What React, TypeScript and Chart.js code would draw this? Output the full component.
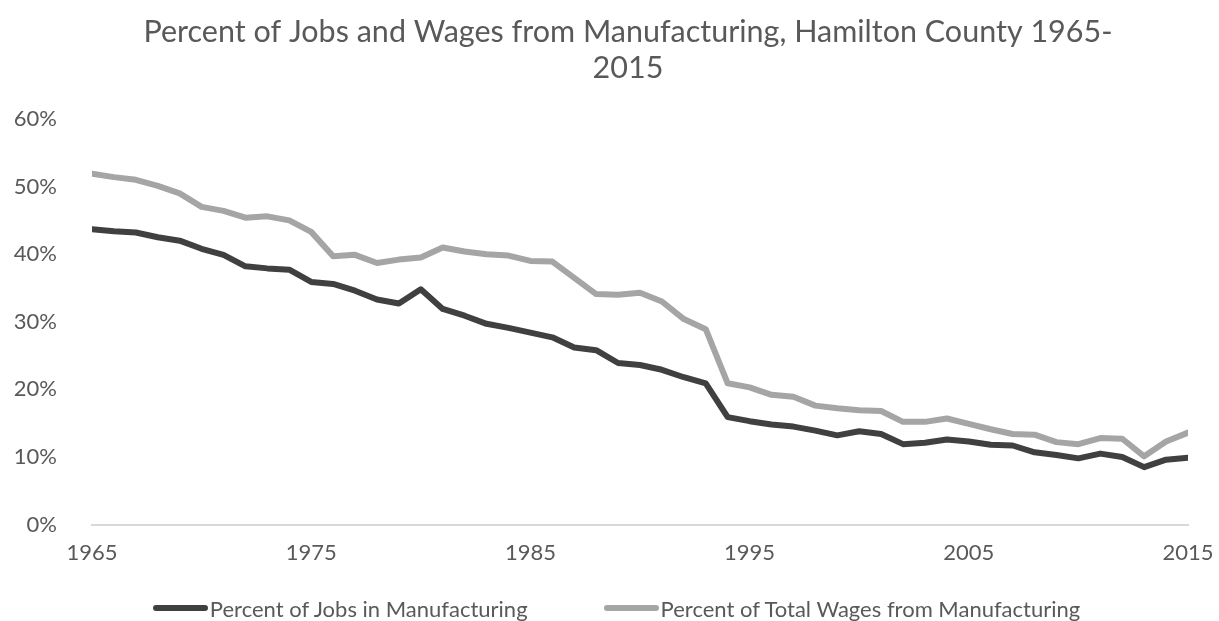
import React, { useEffect, useRef } from "react";
import { Chart, registerables } from "chart.js";

Chart.register(...registerables);

const years: number[] = [
  1965, 1966, 1967, 1968, 1969, 1970, 1971, 1972, 1973, 1974,
  1975, 1976, 1977, 1978, 1979, 1980, 1981, 1982, 1983, 1984,
  1985, 1986, 1987, 1988, 1989, 1990, 1991, 1992, 1993, 1994,
  1995, 1996, 1997, 1998, 1999, 2000, 2001, 2002, 2003, 2004,
  2005, 2006, 2007, 2008, 2009, 2010, 2011, 2012, 2013, 2014, 2015,
];

const jobsPct: number[] = [
  43.7, 43.4, 43.2, 42.5, 42.0, 40.8, 39.9, 38.2, 37.9, 37.7,
  35.9, 35.6, 34.6, 33.3, 32.7, 34.8, 31.9, 30.9, 29.7, 29.1,
  28.4, 27.7, 26.2, 25.8, 23.9, 23.6, 22.9, 21.8, 20.9, 15.9,
  15.3, 14.8, 14.5, 13.9, 13.2, 13.8, 13.4, 11.9, 12.1, 12.6,
  12.3, 11.8, 11.7, 10.7, 10.3, 9.8, 10.5, 10.0, 8.5, 9.6, 9.9,
];

const wagesPct: number[] = [
  51.9, 51.4, 51.0, 50.1, 49.0, 47.0, 46.4, 45.4, 45.6, 45.0,
  43.3, 39.7, 39.9, 38.7, 39.2, 39.5, 41.0, 40.4, 40.0, 39.8,
  39.0, 38.9, 36.5, 34.1, 34.0, 34.3, 33.0, 30.4, 28.9, 20.9,
  20.3, 19.2, 18.9, 17.6, 17.2, 16.9, 16.8, 15.2, 15.2, 15.7,
  14.9, 14.1, 13.4, 13.3, 12.2, 11.9, 12.8, 12.7, 10.1, 12.3, 13.6,
];

const titleLines: string[] = [
  "Percent of Jobs and Wages from Manufacturing, Hamilton County 1965-",
  "2015",
];
const seriesNames: string[] = [
  "Percent of Jobs in Manufacturing",
  "Percent of Total Wages from Manufacturing",
];
const seriesColors: string[] = ["#404040", "#a5a5a5"];
const xTickYears: number[] = [1965, 1975, 1985, 1995, 2005, 2015];

const FONT = "Lato, 'Open Sans', sans-serif";
const TEXT = "#595959";

// shifts the title's horizontal centre to where the reference has it
const titleShift = {
  id: "titleShift",
  afterLayout(chart: any) {
    const t = chart.titleBlock;
    if (t) {
      t.left += 30;
      t.right += 30;
    }
  },
};

export default function App() {
  const ref = useRef<HTMLCanvasElement | null>(null);

  useEffect(() => {
    if (!ref.current) return;
    const chart = new Chart(ref.current, {
      type: "line",
      data: {
        datasets: [
          {
            label: seriesNames[0],
            data: years.map((y, i) => ({ x: y, y: jobsPct[i] })),
            borderColor: seriesColors[0],
            backgroundColor: seriesColors[0],
            borderWidth: 6,
            pointRadius: 0,
            tension: 0,
            borderJoinStyle: "round",
            borderCapStyle: "round",
          },
          {
            label: seriesNames[1],
            data: years.map((y, i) => ({ x: y, y: wagesPct[i] })),
            borderColor: seriesColors[1],
            backgroundColor: seriesColors[1],
            borderWidth: 6,
            pointRadius: 0,
            tension: 0,
            borderJoinStyle: "round",
            borderCapStyle: "round",
          },
        ],
      },
      plugins: [titleShift],
      options: {
        animation: false,
        responsive: true,
        maintainAspectRatio: false,
        layout: { padding: { left: 8, right: 31, top: 10, bottom: 50 } },
        plugins: {
          title: {
            display: true,
            text: titleLines,
            color: TEXT,
            font: { family: FONT, size: 30.5, weight: "normal", lineHeight: 1.18 },
            padding: { top: 4, bottom: 33 },
          },
          legend: { display: false },
          tooltip: { enabled: false },
        },
        scales: {
          x: {
            type: "linear",
            min: 1965,
            max: 2015,
            afterBuildTicks: (scale: any) => {
              scale.ticks = xTickYears.map((v) => ({ value: v }));
            },
            ticks: {
              color: TEXT,
              font: { family: FONT, size: 22 },
              padding: 5,
              maxRotation: 0,
              autoSkip: false,
              callback: (v: any) => String(v),
            },
            grid: {
              display: true,
              drawOnChartArea: false,
              drawTicks: true,
              tickLength: 10,
              color: "rgba(0,0,0,0)",
            },
            border: { display: true, color: "#d9d9d9", width: 2 },
          },
          y: {
            min: 0,
            max: 60,
            ticks: {
              stepSize: 10,
              color: TEXT,
              font: { family: FONT, size: 22 },
              padding: 35,
              callback: (v: any) => v + "%",
            },
            grid: { display: false, drawTicks: false },
            border: { display: false },
            afterFit: (scale: any) => {
              scale.width = 84;
            },
          },
        },
      },
    });
    return () => chart.destroy();
  }, []);

  return (
    <div style={{ position: "fixed", left: 0, top: 0, width: 1219, height: 621, background: "#fff" }}>
      <canvas ref={ref} />
      <div
        style={{
          position: "absolute",
          left: 0,
          top: 594,
          width: 1219,
          height: 28,
          display: "flex",
          justifyContent: "center",
          alignItems: "center",
          paddingLeft: 14,
          boxSizing: "border-box",
          fontFamily: FONT,
          fontSize: 22,
          color: TEXT,
          whiteSpace: "nowrap",
        }}
      >
        {seriesNames.map((name, i) => (
          <div
            key={name}
            style={{ display: "flex", alignItems: "center", marginLeft: i === 0 ? 0 : 76 }}
          >
            <span
              style={{
                display: "inline-block",
                width: 55,
                height: 6,
                borderRadius: 3,
                background: seriesColors[i],
                marginRight: 2,
              }}
            />
            <span>{name}</span>
          </div>
        ))}
      </div>
    </div>
  );
}
